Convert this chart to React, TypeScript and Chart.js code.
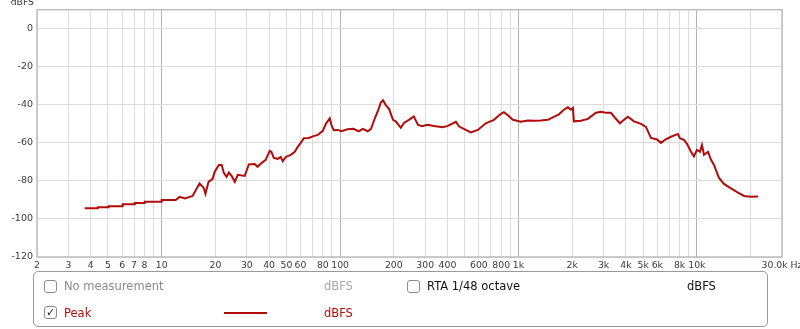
import React, { useEffect, useRef } from "react";
import { Chart, registerables } from "chart.js";

Chart.register(...registerables);

// Frequencies (Hz) of the Peak trace (repeated values = vertical steps)
const frequencies = [
  3.7, 4.38, 4.38, 5.04, 5.04, 6.04, 6.04, 7.06, 7.06, 8.03, 8.03, 10, 10, 11.98, 12.6, 13.5, 14.9, 15.5, 16.3,
  17.2, 17.6, 18.3, 19.3, 19.8,
  20.9, 21.7, 22.3, 23.1, 23.8, 24.7, 25.7, 26.7, 29.2, 30.8, 33.2, 34.5, 36.4, 38.3, 40.3, 41.2, 42.5, 44.7,
  46.5, 47.7, 49.6, 52.9, 55.7, 57.9, 60.2, 62.6, 66.8, 70.3, 75, 80, 83.2, 87.5, 89.8, 92.2, 97, 102, 110,
  119, 127, 134, 143, 149, 157, 163, 169, 174, 180, 188, 198, 205, 219, 228, 243, 259, 273, 287, 310, 335,
  377, 402, 446, 463, 494, 541, 592, 656, 728, 797, 828, 872, 930, 1031, 1129, 1220, 1336, 1462, 1579, 1685,
  1797, 1892, 1967, 2019, 2045, 2239, 2451, 2718, 2899, 3092, 3298, 3473, 3704, 3900, 4108, 4439, 4859, 5182,
  5528, 5974, 6291, 6624, 7157, 7834, 8039, 8466, 8800, 9267, 9632, 10010, 10410, 10680, 10960, 11540, 12000,
  12470, 13300, 14190, 15530, 17000, 18380, 20120, 22020,
];

// Peak level (dBFS) at each frequency
const peakDb = [
  -94.4, -94.4, -93.8, -93.8, -93.3, -93.3, -92.3, -92.3, -91.6, -91.6, -90.9, -90.9, -90.0, -90.0, -88.4, -89.2,
  -87.9, -85.0, -81.3, -83.7, -86.8, -80.5, -78.9, -75.3,
  -71.6, -71.6, -75.8, -77.9, -75.6, -77.4, -80.5, -76.8, -77.4, -71.3, -71.1, -72.6, -70.5, -68.9,
  -64.2, -64.7, -67.9, -68.4, -67.4, -69.7, -67.4, -66.3, -64.7, -62.1, -60.0, -57.6, -57.4, -56.6, -55.8, -53.7,
  -50.0, -47.1, -51.1, -53.4, -53.2, -53.9, -52.9, -52.6, -53.9, -52.6, -53.9, -52.6, -46.8, -43.2, -38.9, -37.6,
  -40.0, -42.1, -47.9, -48.7, -52.1, -49.5, -47.9, -46.1, -50.5, -51.3, -50.5, -51.1, -51.8, -51.1, -48.9, -51.3,
  -52.6, -54.5, -53.2, -49.7, -47.9, -44.7, -43.9, -45.5, -47.9, -48.9, -48.2, -48.4, -48.2, -47.9, -46.3, -45.0,
  -42.6, -41.3, -42.6, -41.6, -48.7, -48.4, -47.4, -44.2, -43.7, -44.2, -44.2, -46.8, -49.7, -47.9, -46.3, -48.7,
  -50.0, -51.6, -57.4, -58.2, -60.0, -58.4, -56.8, -55.3, -57.6, -58.4, -60.5, -64.7, -67.1, -63.7, -64.7, -61.1,
  -66.3, -64.7, -68.9, -71.6, -78.4, -81.6, -83.9, -86.1, -87.9, -88.3, -88.2,
];

// Axis ticks
const xTickValues = [
  2, 3, 4, 5, 6, 7, 8, 9, 10, 20, 30, 40, 50, 60, 70, 80, 90, 100, 200, 300, 400, 500, 600, 700, 800, 900,
  1000, 2000, 3000, 4000, 5000, 6000, 7000, 8000, 9000, 10000, 20000, 30000,
];
const xTickLabels = [
  "2", "3", "4", "5", "6", "7", "8", "", "10", "20", "30", "40", "50", "60", "", "80", "", "100", "200", "300",
  "400", "", "600", "", "800", "", "1k", "2k", "3k", "4k", "5k", "6k", "", "8k", "", "10k", "", "30.0k Hz",
];
const yTickValues = [-120, -100, -80, -60, -40, -20, 0];
const decadeTicks = [10, 100, 1000, 10000];

const RED = "#b00c0c";
const FONT = "'DejaVu Sans', sans-serif";

const framePlugin = {
  id: "frame",
  beforeDatasetsDraw(chart: any) {
    const { ctx, chartArea } = chart;
    ctx.save();
    ctx.strokeStyle = "#bdbdbd";
    ctx.lineWidth = 1.5;
    ctx.strokeRect(chartArea.left, chartArea.top, chartArea.right - chartArea.left, chartArea.bottom - chartArea.top);
    ctx.restore();
  },
};

function ChartCanvas() {
  const ref = useRef<HTMLCanvasElement | null>(null);
  useEffect(() => {
    if (!ref.current) return;
    const chart = new Chart(ref.current, {
      type: "line",
      data: {
        datasets: [
          {
            label: "Peak",
            data: frequencies.map((f, i) => ({ x: f, y: peakDb[i] })),
            borderColor: RED,
            borderWidth: 2,
            pointRadius: 0,
            tension: 0,
            fill: false,
          },
        ],
      },
      options: {
        animation: false,
        responsive: false,
        maintainAspectRatio: false,
        layout: { padding: { top: 9, left: 0, right: 0, bottom: 0 } },
        plugins: { legend: { display: false }, tooltip: { enabled: false }, title: { display: false } },
        scales: {
          x: {
            type: "logarithmic",
            min: 2,
            max: 30000,
            border: { display: false },
            grid: {
              drawTicks: false,
              color: (c: any) => (c.tick && decadeTicks.includes(c.tick.value) ? "#b4b4b4" : "#dcdcdc"),
              lineWidth: 1,
            },
            ticks: {
              autoSkip: false,
              maxRotation: 0,
              minRotation: 0,
              padding: 3,
              color: "#3a3a3a",
              font: { family: FONT, size: 9.3 },
              callback: (v: any) => {
                const i = xTickValues.indexOf(Number(v));
                return i >= 0 ? xTickLabels[i] : "";
              },
            },
            afterBuildTicks: (s: any) => {
              s.ticks = xTickValues.map((v) => ({ value: v }));
            },
            afterFit: (s: any) => {
              s.height = 18;
              s.paddingLeft = 0;
              s.paddingRight = 18;
            },
          },
          y: {
            type: "linear",
            min: -120,
            max: 10,
            border: { display: false },
            grid: { drawTicks: false, color: "#dcdcdc", lineWidth: 1 },
            ticks: {
              padding: 4,
              color: "#3a3a3a",
              font: { family: FONT, size: 9.5 },
            },
            afterBuildTicks: (s: any) => {
              s.ticks = yTickValues.map((v) => ({ value: v }));
            },
            afterFit: (s: any) => {
              s.width = 37;
            },
          },
        },
      },
      plugins: [framePlugin],
    });
    return () => chart.destroy();
  }, []);
  return <canvas ref={ref} width={800} height={275} style={{ position: "absolute", left: 0, top: 0, width: 800, height: 275 }} />;
}

const txt = (extra: React.CSSProperties): React.CSSProperties => ({
  position: "absolute",
  fontFamily: FONT,
  fontSize: 11.5,
  lineHeight: "14px",
  whiteSpace: "nowrap",
  ...extra,
});

function Box({ left, top, checked }: { left: number; top: number; checked?: boolean }) {
  return (
    <span
      style={{
        position: "absolute",
        left,
        top,
        width: 13,
        height: 13,
        boxSizing: "border-box",
        border: "1px solid #8c8c8c",
        borderRadius: 3,
        background: "#fff",
        fontFamily: FONT,
        fontSize: 11,
        lineHeight: "11px",
        textAlign: "center",
        color: "#222",
      }}
    >
      {checked ? "✓" : ""}
    </span>
  );
}

export default function App() {
  return (
    <div style={{ position: "absolute", left: 0, top: 0, width: 800, height: 329, background: "#fff", overflow: "hidden" }}>
      <ChartCanvas />
      <span style={txt({ left: 0, top: -4, width: 34, textAlign: "right", fontSize: 9.3, lineHeight: "11px", color: "#3a3a3a" })}>dBFS</span>
      <div
        style={{
          position: "absolute",
          left: 33,
          top: 271,
          width: 735,
          height: 56,
          boxSizing: "border-box",
          border: "1px solid #9a9a9a",
          borderRadius: 5,
        }}
      />
      <Box left={44} top={280} />
      <span style={txt({ left: 64, top: 279, color: "#8a8a8a" })}>No measurement</span>
      <span style={txt({ left: 324, top: 279, color: "#a8a8a8" })}>dBFS</span>
      <Box left={44} top={306} checked />
      <span style={txt({ left: 64, top: 305.5, color: RED })}>Peak</span>
      <span style={{ position: "absolute", left: 224, top: 311.5, width: 43, height: 2, background: RED }} />
      <span style={txt({ left: 324, top: 305.5, color: RED })}>dBFS</span>
      <Box left={407} top={280} />
      <span style={txt({ left: 427, top: 279, color: "#111" })}>RTA 1/48 octave</span>
      <span style={txt({ left: 687, top: 279, color: "#111" })}>dBFS</span>
    </div>
  );
}
